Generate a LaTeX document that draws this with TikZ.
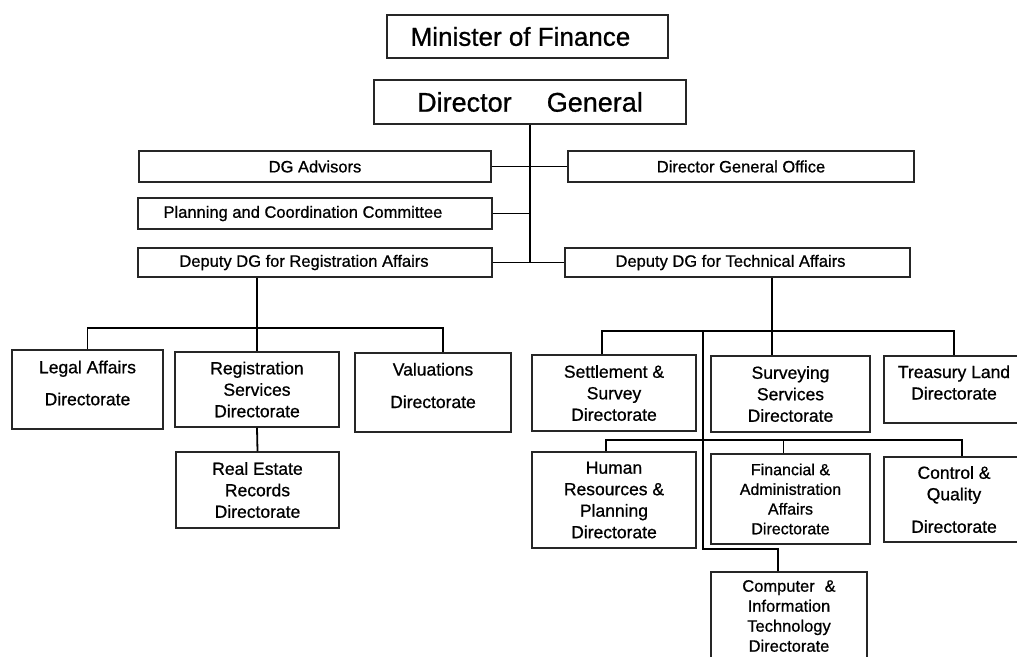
\documentclass[tikz,border=0pt]{standalone}
\usepackage{fontspec}
\setmainfont{Liberation Sans}[BoldFont={Liberation Sans}, BoldFeatures={FakeBold=0.8}]

\begin{document}
\begin{tikzpicture}[x=1pt, y=-1pt,
    box/.style={draw=black!85, line width=1.5pt, align=center, inner sep=0pt},
    head/.style={box, font=\fontsize{26}{30}\selectfont\bfseries},
    staff/.style={box, font=\fontsize{16.5}{20}\selectfont\bfseries, minimum height=31pt},
    dirtext/.style={align=center, inner sep=0pt, font=\fontsize{17.5}{21.5}\selectfont\bfseries},
    dir/.style={box, dirtext},
    link/.style={line width=1.8pt}]
        \useasboundingbox (0,0) rectangle (1017,656);
        \clip (0,0) rectangle (1017,656);

        % Nodi
        \node[head, minimum width=281pt, minimum height=43pt] (MF) at (527.5,36.5) {Minister of Finance\hspace*{14pt}};
        \node[head, font=\fontsize{27}{30}\selectfont\bfseries, minimum width=312pt, minimum height=44pt] (DG) at (530,102) {Director\hspace{1.3em}General};
        \node[staff, minimum width=352pt] (ADV) at (315,166.5) {DG Advisors};
        \node[staff, minimum width=346pt] (DGO) at (741,166.5) {Director General Office};
        \node[staff, minimum width=354pt] (PCC) at (315,213.5) {Planning and Coordination Committee\hspace*{24pt}};
        \node[staff, minimum width=354pt, minimum height=29pt] (DREG) at (315,262.5) {Deputy DG for Registration Affairs\hspace*{22pt}};
        \node[staff, minimum width=345pt, minimum height=29pt] (DTEC) at (737.5,262.5) {Deputy DG for Technical Affairs\hspace*{14pt}};

        % Direzioni registrazione
        \node[dir, minimum width=151pt, minimum height=79pt] (LEG) at (87.5,389.5) {};
        \node[dirtext] at ([yshift=6.5pt]LEG.center) {Legal Affairs\\[10.5pt]Directorate};
        \node[dir, minimum width=164pt, minimum height=75pt] (RSD) at (257,389.5) {Registration\\Services\\Directorate};
        \node[dir, minimum width=156pt, minimum height=79pt] (VAL) at (433,392.5) {};
        \node[dirtext] at ([yshift=7pt]VAL.center) {Valuations\\[11pt]Directorate};
        \node[dir, minimum width=163pt, minimum height=76pt] (RER) at (257.5,490) {Real Estate\\Records\\Directorate};

        % Direzioni tecniche
        \node[dir, minimum width=164pt, minimum height=76pt] (SSD) at (614,393) {Settlement \&\\Survey\\Directorate};
        \node[dir, minimum width=159pt, minimum height=76pt] (SVS) at (790.5,394) {Surveying\\Services\\Directorate};
        \node[dir, minimum width=140pt, minimum height=67pt] (TLD) at (954,389.5) {};
        \node[dirtext] at ([yshift=7pt]TLD.center) {Treasury Land\\Directorate};
        \node[dir, minimum width=164pt, minimum height=96pt] (HRP) at (614,500) {Human\\Resources \&\\Planning\\Directorate};
        \node[dir, font=\fontsize{16}{19.7}\selectfont\bfseries, minimum width=159pt, minimum height=90pt] (FAA) at (790.5,499) {Financial \&\\Administration\\Affairs\\Directorate};
        \node[dir, minimum width=140pt, minimum height=85pt] (CQD) at (954,499.5) {Control \&\\Quality\\[11pt]Directorate};
        \node[dir, font=\fontsize{16.5}{20}\selectfont\bfseries, minimum width=156pt, minimum height=88pt] (CIT) at (789,616) {Computer\hspace{0.6em}\&\\Information\\Technology\\Directorate};

        % Archi
        \draw[link] (DG.south) -- (DG.south |- DTEC.west) -- (DTEC.west);
        \draw[link] (ADV.east) -- (ADV.east -| DG.south);
        \draw[link] (DGO.west) -- (DGO.west -| DG.south);
        \draw[link] (PCC.east) -- (PCC.east -| DG.south);
        \draw[link] (DREG.east) -- (DREG.east -| DG.south);

        \coordinate (LB) at (257,328); % barra registrazione
        \draw[link] (DREG.south -| RSD.north) -- (RSD.north);
        \draw[link] (LEG.north) |- (LB) -| ([xshift=10pt]VAL.north);
        \draw[link] (RSD.south) -- (RER.north);

        \coordinate (RB) at (772,331); % barra tecnica
        \coordinate (SB) at (703,440); % seconda barra
        \coordinate (FT) at ([xshift=-7pt]FAA.north);
        \draw[link] (RB |- DTEC.south) -- (RB |- SVS.north);
        \draw[link] ([xshift=-12pt]SSD.north) |- (RB) -| (TLD.north);
        \draw[link] (SB |- RB) -- (SB |- HRP.south) -| ([xshift=-11pt]CIT.north);
        \draw[link] ([xshift=-8pt]HRP.north) |- (SB) -| ([xshift=8pt]CQD.north);
        \draw[link] (FT) -- (FT |- SB);

    \end{tikzpicture}
\end{document}
